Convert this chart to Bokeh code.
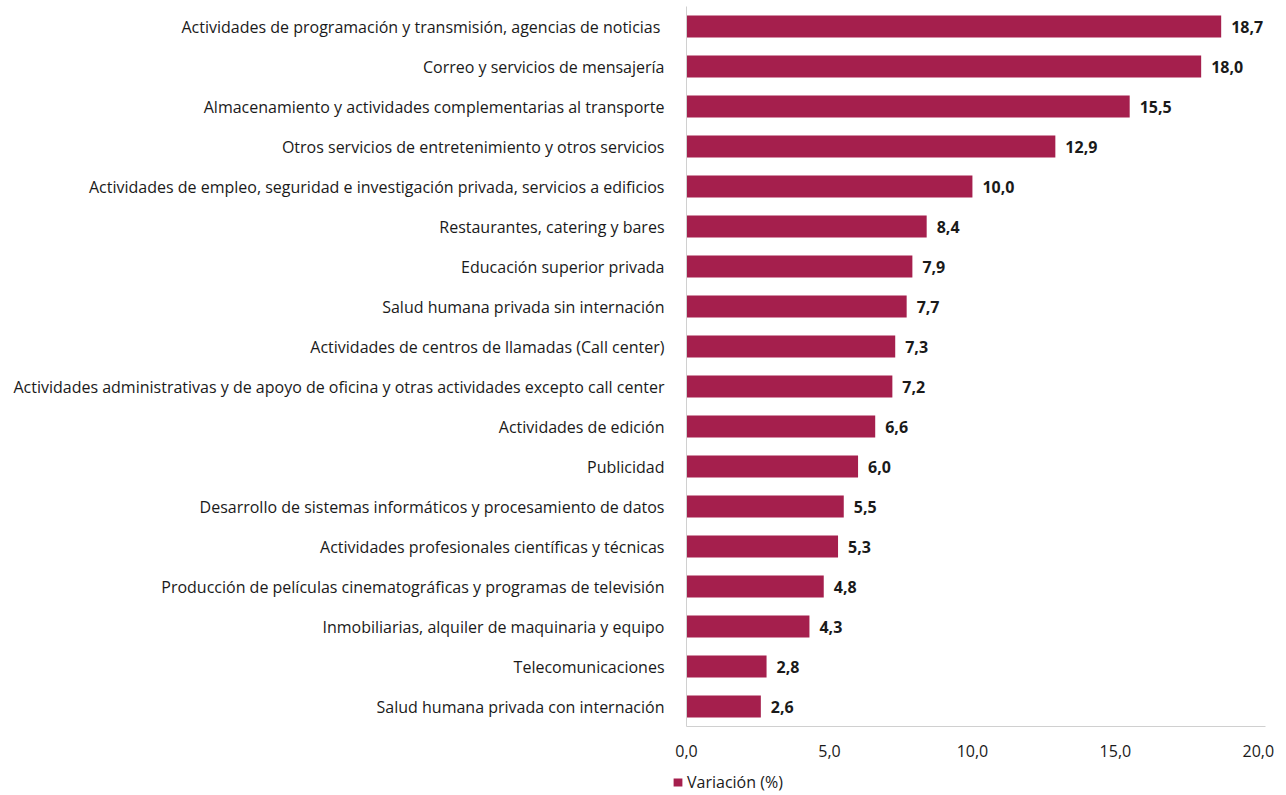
from bokeh.plotting import figure
from bokeh.layouts import column, row
from bokeh.models import ColumnDataSource, FactorRange, Range1d, FixedTicker, Legend, LegendItem
from bokeh.core.properties import value
from bokeh.embed import file_html
from bokeh.resources import INLINE

categories = [
    "Actividades de programación y transmisión,  agencias de noticias",
    "Correo y servicios de mensajería",
    "Almacenamiento y actividades complementarias al transporte",
    "Otros servicios de entretenimiento y otros servicios",
    "Actividades de empleo, seguridad e investigación privada, servicios a edificios",
    "Restaurantes, catering y bares",
    "Educación superior privada",
    "Salud humana privada sin internación",
    "Actividades de centros de llamadas (Call center)",
    "Actividades administrativas y de apoyo de oficina y otras actividades excepto call center",
    "Actividades de edición",
    "Publicidad",
    "Desarrollo de sistemas informáticos y procesamiento de datos",
    "Actividades profesionales científicas y técnicas",
    "Producción de películas cinematográficas y programas de televisión",
    "Inmobiliarias, alquiler de maquinaria y equipo",
    "Telecomunicaciones",
    "Salud humana privada con internación",
]
variacion = [18.7, 18.0, 15.5, 12.9, 10.0, 8.4, 7.9, 7.7, 7.3, 7.2, 6.6, 6.0, 5.5, 5.3, 4.8, 4.3, 2.8, 2.6]
x_ticks = [0, 5, 10, 15, 20]
x_tick_labels = ["0,0", "5,0", "10,0", "15,0", "20,0"]
series_name = "Variación (%)"

BAR = "#A51F4D"
FONT = "Open Sans"
TXT = "#1a1a1a"

labels = [f"{v:.1f}".replace(".", ",") for v in variacion]
src = ColumnDataSource(dict(cat=categories, val=variacion, lab=labels))

p = figure(
    width=1280, height=762,
    y_range=FactorRange(factors=list(reversed(categories))),
    x_range=Range1d(0, 20.25),
    output_backend="svg", toolbar_location=None,
    min_border_left=686, min_border_right=15, min_border_top=6, min_border_bottom=36,
)
p.outline_line_color = None
p.xgrid.visible = False
p.ygrid.visible = False
p.background_fill_color = "white"

r = p.hbar(y="cat", right="val", left=0, height=0.55, source=src, fill_color=BAR, line_color=None)
p.text(x="val", y="cat", text="lab", source=src, x_offset=10,
       text_align="left", text_baseline="middle",
       text_font=value(FONT), text_font_size="16px", text_font_style="bold", text_color=TXT)

xa = p.xaxis[0]
xa.ticker = FixedTicker(ticks=x_ticks)
xa.major_label_overrides = {t: l for t, l in zip(x_ticks, x_tick_labels)}
xa.major_tick_line_color = None
xa.minor_tick_line_color = None
xa.axis_line_color = "#d0d0d0"
xa.major_label_text_font = FONT
xa.major_label_text_font_size = "16px"
xa.major_label_text_color = TXT
xa.major_label_standoff = 12

ya = p.yaxis[0]
ya.major_tick_line_color = None
ya.minor_tick_line_color = None
ya.axis_line_color = "#d0d0d0"
ya.major_label_text_font = FONT
ya.major_label_text_font_size = "16px"
ya.major_label_text_color = TXT
ya.major_label_standoff = 16

# legend strip below the chart
leg = figure(width=1280, height=32, x_range=Range1d(0, 1), y_range=Range1d(0, 1),
             x_axis_type=None, y_axis_type=None, output_backend="svg", toolbar_location=None,
             min_border_left=672, min_border_right=15, min_border_top=0, min_border_bottom=0)
leg.outline_line_color = None
leg.xgrid.visible = False
leg.ygrid.visible = False
dummy = leg.hbar(y=[0.5], right=[0], left=0, height=0.5, fill_color=BAR, line_color=None)
legend = Legend(items=[LegendItem(label=series_name, renderers=[dummy])],
                location=(0, 1), orientation="horizontal",
                margin=0, padding=0, spacing=0,
                glyph_width=11, glyph_height=10, label_height=16, label_standoff=4,
                label_text_font=FONT, label_text_font_size="16px", label_text_color=TXT,
                border_line_color=None, background_fill_alpha=0)
leg.add_layout(legend)

layout = column(p, row(leg, spacing=0), spacing=0)
open("out.html", "w").write(file_html(layout, INLINE))
